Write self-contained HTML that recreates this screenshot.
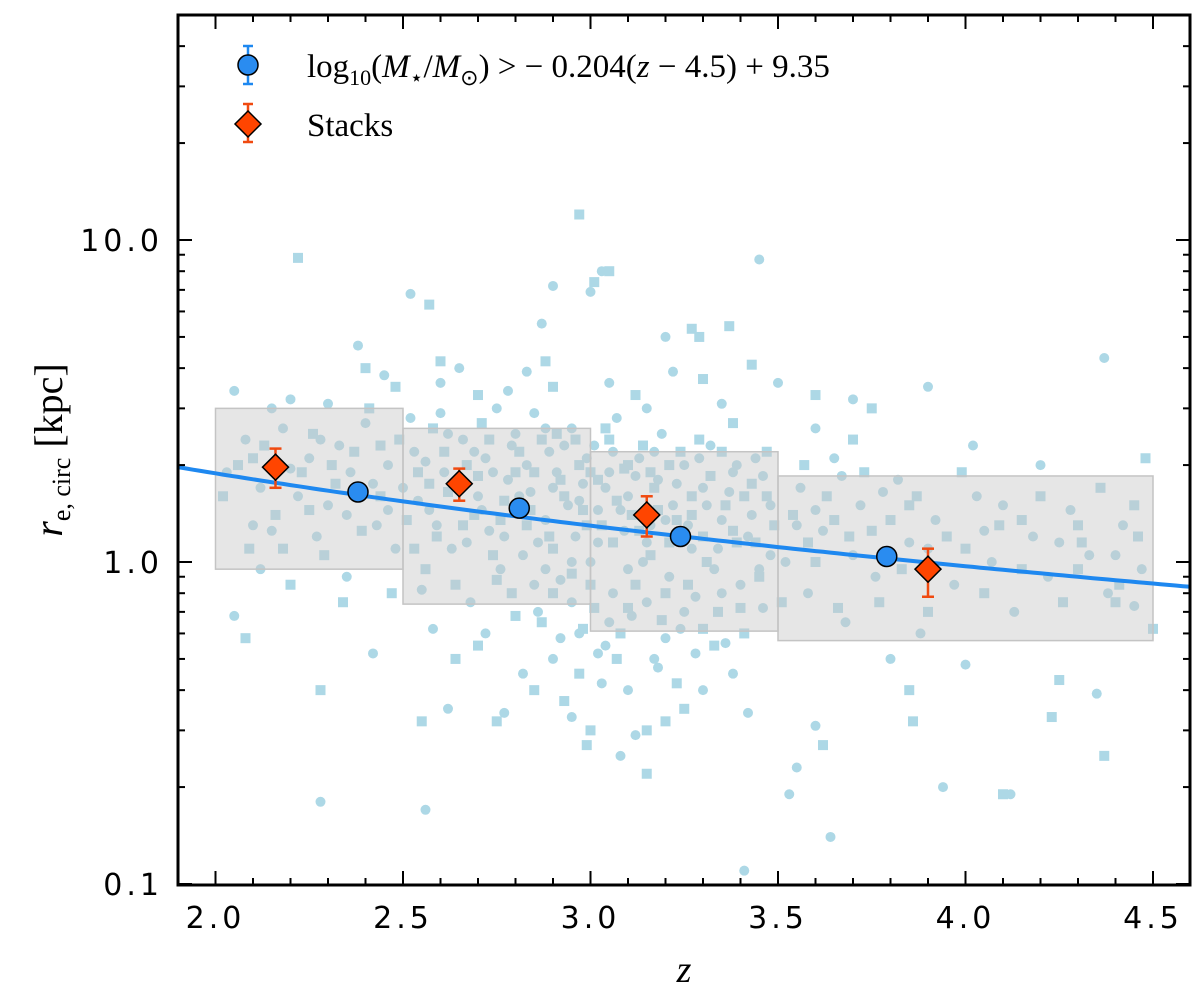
<!DOCTYPE html>
<html><head><meta charset="utf-8">
<style>
body{margin:0;background:#fff;}
svg text{font-family:"DejaVu Sans","Liberation Sans",sans-serif;}
</style></head>
<body>
<svg id="chart" width="1200" height="999" viewBox="0 0 1200 999" xmlns="http://www.w3.org/2000/svg">
<g id="scatter"></g>
<g id="boxes"></g>
<g id="fit"></g>
<g id="marks"></g>
<g id="axes"></g>
<g id="legend">
  <line x1="248" y1="46" x2="248" y2="84" stroke="#1e88f0" stroke-width="2.5"/>
  <line x1="243" y1="46" x2="253" y2="46" stroke="#1e88f0" stroke-width="2.5"/>
  <line x1="243" y1="84" x2="253" y2="84" stroke="#1e88f0" stroke-width="2.5"/>
  <circle cx="248" cy="65" r="10" fill="#2a8cf0" stroke="#000" stroke-width="1.5"/>
  <text x="307" y="77" font-size="33" style="font-family:'Liberation Serif',serif">log<tspan font-size="22" dy="8">10</tspan><tspan dy="-8">(</tspan><tspan font-style="italic">M</tspan><tspan font-size="22" dy="8">⋆</tspan><tspan dy="-8">/</tspan><tspan font-style="italic">M</tspan><tspan font-size="22" dy="8">⊙</tspan><tspan dy="-8">) &gt; − 0.204(</tspan><tspan font-style="italic">z</tspan> − 4.5) + 9.35</text>
  <line x1="248" y1="104" x2="248" y2="142" stroke="#f04a10" stroke-width="2.5"/>
  <line x1="243" y1="104" x2="253" y2="104" stroke="#f04a10" stroke-width="2.5"/>
  <line x1="243" y1="142" x2="253" y2="142" stroke="#f04a10" stroke-width="2.5"/>
  <polygon points="248,111 261,124 248,137 235,124" fill="#ff4500" stroke="#000" stroke-width="1.5"/>
  <text x="307" y="136" font-size="33" style="font-family:'Liberation Serif',serif">Stacks</text>
</g>
</svg>
<script>
const circlePts=[[2.05,3.4],[2.2,3.2],[2.15,3.0],[2.3,3.1],[2.45,3.8],[2.38,4.7],[2.52,6.8],[2.9,7.2],[3.0,6.9],[3.03,8.0],[3.45,8.7],[2.87,5.5],[3.2,5.0],[4.37,4.3],[3.9,3.5],[4.02,2.3],[4.2,2.0],[4.1,1.5],[3.6,2.6],[2.28,0.18],[2.56,0.17],[2.62,0.35],[2.77,0.34],[2.95,0.33],[3.08,0.25],[3.12,0.29],[3.42,0.34],[3.6,0.31],[3.64,0.14],[3.41,0.11],[3.53,0.19],[3.94,0.2],[4.12,0.19],[4.35,0.39],[2.05,0.68],[2.42,0.52],[3.8,0.5],[4.0,0.48],[4.45,0.73],[3.55,0.23],[3.3,0.4],
[2.03,1.9],[2.08,2.4],[2.1,1.3],[2.12,0.95],[2.18,2.6],[2.22,1.6],[2.25,2.1],[2.27,1.2],[2.3,1.5],[2.33,2.3],[2.35,0.9],[2.36,1.9],[2.4,2.7],[2.43,1.3],[2.46,2.0],[2.48,1.1],[2.5,1.7],[2.53,2.2],[2.55,0.82],[2.57,1.45],[2.6,2.9],[2.61,1.9],[2.63,1.1],[2.66,2.4],[2.68,0.75],[2.7,1.6],[2.72,2.1],[2.73,1.25],[2.75,3.0],[2.76,0.95],[2.78,1.8],[2.8,2.5],[2.82,1.05],[2.84,1.65],[2.85,2.9],[2.86,0.7],[2.88,1.35],[2.89,2.2],[2.91,1.9],[2.92,0.88],[2.94,1.5],[2.95,2.6],[2.96,1.2],[2.97,0.6],[2.98,1.75],[3.0,1.0],[3.01,2.3],[3.02,1.45],[3.04,0.55],[3.05,1.9],[3.06,0.8],[3.07,2.8],[3.09,1.25],[3.1,1.6],[3.11,0.68],[3.13,2.1],[3.14,1.0],[3.16,1.3],[3.17,0.5],[3.18,1.8],[3.19,2.5],[3.21,0.9],[3.22,1.5],[3.24,0.62],[3.25,2.0],[3.27,1.1],[3.28,0.78],[3.3,1.7],[3.32,2.3],[3.33,0.95],[3.35,1.35],[3.36,0.56],[3.38,1.9],[3.4,0.85],[3.42,1.2],[3.44,2.1],[3.46,0.72],[3.48,1.5],[3.52,1.0],[3.56,1.7],[3.58,0.8],[3.62,1.25],[3.65,2.1],[3.68,0.65],[3.72,1.5],[3.76,0.9],[3.82,1.8],[3.85,1.15],[3.88,0.6],[3.92,1.35],[3.97,0.85],[4.03,1.6],[4.07,1.0],[4.13,0.7],[4.18,1.2],[4.22,0.9],[4.28,1.45],[4.33,1.05],[4.38,0.8],[4.42,1.3],[4.47,0.95],
[2.6,3.6],[2.65,4.0],[2.78,3.4],[2.83,3.9],[3.05,3.6],[3.15,3.0],[3.22,3.9],[3.35,3.1],[3.5,3.6],[3.7,3.2],[2.82,0.45],[2.9,0.5],[3.03,0.42],[3.18,0.47],[3.28,0.52],[3.38,0.45],[2.72,0.6],[2.58,0.62],[2.92,0.58],[3.1,0.4],
[2.52,2.8],[2.54,1.55],[2.56,2.05],[2.59,1.3],[2.62,2.5],[2.64,1.75],[2.67,1.15],[2.69,2.2],[2.71,1.45],[2.74,1.9],[2.77,1.2],[2.79,2.3],[2.81,1.6],[2.83,2.0],[2.86,1.15],[2.88,2.6],[2.9,1.7],[2.93,2.3],[2.95,1.0],[2.97,1.55],[2.99,2.1],[3.02,1.15],[3.04,1.7],[3.06,2.2],[3.08,1.45],[3.1,0.95],[3.12,1.85],[3.15,1.15],[3.17,2.2],[3.2,1.35],[3.23,1.75],[3.26,1.3],[3.29,2.1],[3.31,1.5],[3.34,1.1],[3.37,1.65],[3.39,2.0],[3.43,1.4],[3.46,1.85],[3.48,1.05],[2.85,0.85],[2.95,0.75],[3.05,0.65],[3.15,0.75],[3.25,0.7],[3.35,0.8],[3.2,0.58],[3.02,0.52],[2.88,0.95],[3.45,0.95],[2.35,1.4],[2.2,1.95],[2.15,1.25],[2.42,1.75],[2.28,2.4],[2.46,1.45],[2.12,1.7],[3.6,1.45],[3.7,1.05],[3.78,1.65],[3.67,1.85],[3.55,1.3],[3.9,1.1],[4.05,1.25],[4.25,1.15],[4.4,1.05]];
const squarePts=[[2.97,12],[3.01,7.4],[3.05,8.0],[2.57,6.3],[3.27,5.3],[3.29,5.0],[3.37,5.4],[2.22,8.8],[2.9,3.5],[2.6,4.2],[4.48,2.1],[4.3,1.3],[3.7,2.4],[3.75,3.0],[2.75,0.32],[2.55,0.32],[2.99,0.27],[3.0,0.3],[2.93,0.37],[3.2,0.32],[3.25,0.35],[3.62,0.27],[3.15,0.22],[3.86,0.32],[4.1,0.19],[4.37,0.25],[4.23,0.33],[4.25,0.43],[2.08,0.58],[2.28,0.4],[3.85,0.4],[4.4,0.75],[4.5,0.62],[3.15,0.3],[2.7,0.55],
[2.02,1.6],[2.06,2.0],[2.09,1.1],[2.13,2.3],[2.16,1.4],[2.2,0.85],[2.23,1.9],[2.26,2.5],[2.29,1.05],[2.32,1.75],[2.34,0.75],[2.37,2.2],[2.39,1.25],[2.41,3.0],[2.44,1.6],[2.47,0.8],[2.49,2.4],[2.51,1.35],[2.54,1.9],[2.56,0.95],[2.58,2.6],[2.59,1.2],[2.62,1.65],[2.64,0.85],[2.67,2.0],[2.69,1.4],[2.71,2.7],[2.74,1.05],[2.77,1.55],[2.79,0.8],[2.81,2.2],[2.83,1.3],[2.85,1.9],[2.87,0.65],[2.9,1.1],[2.91,2.5],[2.93,1.6],[2.95,0.92],[2.97,2.0],[2.99,1.3],[3.01,0.72],[3.02,1.8],[3.04,2.6],[3.06,1.15],[3.08,0.6],[3.09,1.95],[3.11,1.4],[3.12,0.85],[3.14,2.3],[3.16,1.05],[3.17,1.7],[3.19,0.66],[3.21,2.0],[3.23,1.35],[3.26,0.85],[3.27,1.6],[3.29,2.4],[3.31,1.0],[3.34,0.7],[3.36,1.5],[3.38,2.7],[3.39,1.15],[3.41,0.6],[3.43,1.75],[3.45,0.9],[3.47,2.2],[3.49,1.3],[3.51,0.75],[3.54,1.4],[3.57,2.0],[3.6,1.0],[3.63,1.6],[3.66,0.72],[3.69,1.2],[3.73,1.9],[3.77,0.75],[3.8,1.35],[3.83,0.95],[3.87,1.6],[3.9,0.7],[3.95,1.2],[3.99,1.9],[4.05,0.8],[4.09,1.3],[4.15,0.95],[4.2,1.6],[4.26,0.75],[4.31,1.15],[4.36,1.7],[4.41,0.85],[4.46,1.2],
[2.4,4.0],[2.48,3.5],[2.7,3.3],[2.88,4.2],[3.12,3.3],[3.3,3.7],[3.43,4.1],[3.6,3.3],[2.85,0.4],[2.97,0.45],[3.07,0.5],[3.23,0.42],[3.33,0.55],[2.64,0.5],[2.98,0.62],
[2.53,1.1],[2.57,1.75],[2.61,2.2],[2.66,1.3],[2.7,1.85],[2.73,2.4],[2.76,1.35],[2.8,1.9],[2.84,1.45],[2.87,2.4],[2.89,1.2],[2.92,1.8],[2.96,2.4],[2.98,1.45],[3.0,1.9],[3.03,1.3],[3.05,2.4],[3.07,1.55],[3.1,2.0],[3.13,1.25],[3.16,1.9],[3.18,1.45],[3.21,1.15],[3.24,2.2],[3.27,1.4],[3.3,1.2],[3.32,1.85],[3.35,2.2],[3.38,1.25],[3.41,1.6],[3.44,1.15],[3.47,1.6],[2.9,0.8],[3.0,0.85],[3.1,0.72],[3.2,0.8],[3.3,0.62],[3.4,0.72],[2.8,0.68],[2.75,0.88],[2.25,1.45],[2.18,1.1],[2.31,2.0],[2.44,2.3],[2.1,2.1],[3.65,1.35],[3.75,1.25],[3.85,1.5],[3.58,1.15],[4.0,1.1],[4.15,1.35],[4.3,0.95],[4.45,1.5]];
const binLo=[2.0,2.5,3.0,3.5];
const binHi=[2.5,3.0,3.5,4.5];
const binTop=[3.0,2.6,2.2,1.85];
const binBot=[0.95,0.74,0.61,0.57];
const circZ=[2.38,2.81,3.24,3.79];
const circR=[1.65,1.47,1.2,1.04];
const stackZ=[2.16,2.65,3.15,3.9];
const stackR=[1.97,1.75,1.4,0.95];
const stackLo=[1.7,1.55,1.2,0.78];
const stackHi=[2.25,1.95,1.6,1.1];
const fitNorm=1.97, fitSlope=-1.30;
const xTicks=[2.0,2.5,3.0,3.5,4.0,4.5];
const yTicks=[0.1,1.0,10.0];

const L=178,R=1190,T=15,B=885;
const X=z=>L+(z-1.9)*375;
const Y=r=>562-Math.log10(r)*322;
const NS="http://www.w3.org/2000/svg";
function mk(tag,parent,attrs){const e=document.createElementNS(NS,tag);for(const k in attrs)e.setAttribute(k,attrs[k]);parent.appendChild(e);return e;}
const sc=document.getElementById('scatter');
circlePts.forEach(p=>{const c=mk('circle',sc,{cx:X(p[0]),cy:Y(p[1]),r:5,fill:'#add8e6'});

});
squarePts.forEach(p=>{const c=mk('rect',sc,{x:X(p[0])-5,y:Y(p[1])-5,width:10,height:10,fill:'#add8e6'});

});
const bx=document.getElementById('boxes');
binLo.forEach((lo,i)=>{const r=mk('rect',bx,{x:X(lo),y:Y(binTop[i]),width:X(binHi[i])-X(lo),height:Y(binBot[i])-Y(binTop[i]),fill:'rgba(200,200,200,0.45)',stroke:'#c4c4c4','stroke-width':1.5});

});
const ft=document.getElementById('fit');
let d='';for(let z=1.9;z<=4.601;z+=0.02){const r=fitNorm*Math.pow((1+z)/2.9,fitSlope);d+=(d?'L':'M')+X(z).toFixed(1)+','+Y(r).toFixed(1);}
const fl=mk('path',ft,{d:d,fill:'none',stroke:'#1e88f0','stroke-width':4});


const mg=document.getElementById('marks');
circZ.forEach((z,i)=>{const c=mk('circle',mg,{cx:X(z),cy:Y(circR[i]),r:10,fill:'#2a8cf0',stroke:'#000','stroke-width':1.5});

});
stackZ.forEach((z,i)=>{const x=X(z),y=Y(stackR[i]),y1=Y(stackLo[i]),y2=Y(stackHi[i]);
mk('line',mg,{x1:x,y1:y1,x2:x,y2:y2,stroke:'#f04a10','stroke-width':2.5});
mk('line',mg,{x1:x-6,y1:y1,x2:x+6,y2:y1,stroke:'#f04a10','stroke-width':2.5});
mk('line',mg,{x1:x-6,y1:y2,x2:x+6,y2:y2,stroke:'#f04a10','stroke-width':2.5});
const p=mk('polygon',mg,{points:`${x},${y-13} ${x+13},${y} ${x},${y+13} ${x-13},${y}`,fill:'#ff4500',stroke:'#000','stroke-width':1.5});

});
const ax=document.getElementById('axes');
const fr=mk('rect',ax,{x:L,y:T,width:R-L,height:B-T,fill:'none',stroke:'#000','stroke-width':3});


for(let z=1.9;z<=4.601;z+=0.1){const major=Math.abs(z*2-Math.round(z*2))<0.01;const len=major?14:7;const x=X(z);
mk('line',ax,{x1:x,y1:B,x2:x,y2:B-len,stroke:'#000','stroke-width':2});
mk('line',ax,{x1:x,y1:T,x2:x,y2:T+len,stroke:'#000','stroke-width':2});}
for(let e=-1;e<=1;e++)for(let m=1;m<=9;m++){const v=m*Math.pow(10,e);const y=Y(v);if(y<T||y>B)continue;const len=m==1?14:7;
mk('line',ax,{x1:L,y1:y,x2:L+len,y2:y,stroke:'#000','stroke-width':2});
mk('line',ax,{x1:R,y1:y,x2:R-len,y2:y,stroke:'#000','stroke-width':2});}
xTicks.forEach(v=>{const t=mk('text',ax,{x:X(v),y:928,'font-size':30,'text-anchor':'middle','letter-spacing':4});t.textContent=v.toFixed(1);

});
yTicks.forEach(v=>{const t=mk('text',ax,{x:163,y:Y(v)+11,'font-size':30,'text-anchor':'end','letter-spacing':4});t.textContent=v.toFixed(1);

});
const xt=mk('text',ax,{x:684,y:982,'font-size':38,'text-anchor':'middle','font-style':'italic',style:"font-family:'Liberation Serif',serif"});xt.textContent='z';


const yt=mk('text',ax,{x:0,y:0,'font-size':40,'text-anchor':'middle',transform:'translate(62,450) rotate(-90)',style:"font-family:'Liberation Serif',serif"});
yt.innerHTML='<tspan font-style="italic">r</tspan><tspan font-size="26" dy="8">e, circ</tspan><tspan dy="-8"> [kpc]</tspan>';


</script>
</body></html>
